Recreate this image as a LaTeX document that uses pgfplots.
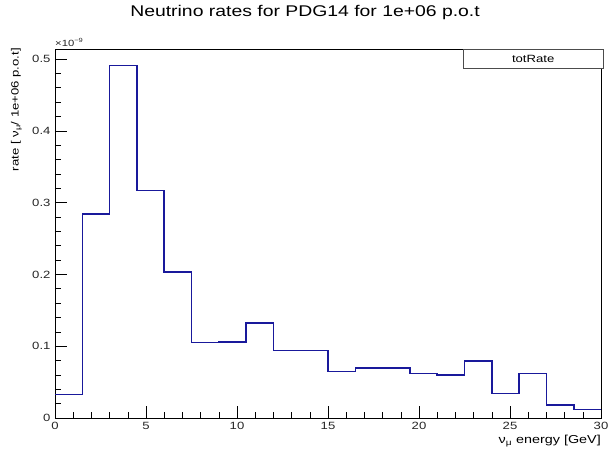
\documentclass[border=0pt]{standalone}
\usepackage{pgfplots}
\pgfplotsset{compat=1.18}
\usepackage{fontspec}
\setmainfont{Liberation Sans}[FakeStretch=1.25]
\definecolor{histblue}{RGB}{25,25,155}
\begin{document}
\begin{tikzpicture}[x=1pt,y=1pt]
\useasboundingbox (0,0) rectangle (612,452);
\begin{axis}[
  at={(55pt,34pt)}, anchor=south west,
  scale only axis, width=546pt, height=369pt,
  xmin=0, xmax=30, ymin=0, ymax=0.514,
  xtick={0,5,...,30}, minor x tick num=4,
  ytick={0,0.1,0.2,0.3,0.4,0.5}, minor y tick num=4,
  tick align=inside, xtick pos=bottom, ytick pos=left,
  major tick length=12pt, minor tick length=6pt,
  every tick/.style={black, line width=0.6pt},
  axis line style={line width=0.7pt},
  /pgf/number format/assume math mode=true,
  yticklabel style={/pgf/number format/fixed, /pgf/number format/precision=1, font=\fontsize{10.5}{12}\selectfont, color=black!85, xshift=-1pt},
  xticklabel style={font=\fontsize{10.5}{12}\selectfont, color=black!85, yshift=-1pt},
  scaled y ticks=false,
  title={Neutrino rates for PDG14 for 1e+06 p.o.t},
  title style={font=\fontsize{15.5}{18}\selectfont, anchor=center, at={(rel axis cs:0.458,1)}, yshift=31pt},
  xlabel={ν\textsubscript{μ} energy [GeV]},
  xlabel style={font=\fontsize{11.5}{13}\selectfont, at={(rel axis cs:1,0)}, anchor=north east, yshift=-17pt, inner sep=0pt},
  ylabel={rate [ ν\textsubscript{μ}/ 1e+06 p.o.t]},
  ylabel style={font=\fontsize{10.5}{12}\selectfont, at={(rel axis cs:0,1)}, anchor=south east, yshift=33pt, xshift=1pt, inner sep=0pt},
  clip=false,
]
\addplot[const plot mark left, histblue, line width=1.6pt] coordinates {
(0,0.033) (1.5,0.284) (3,0.491) (4.5,0.317) (6,0.203) (7.5,0.105)
(9,0.106) (10.5,0.132) (12,0.094) (13.5,0.094) (15,0.065) (16.5,0.070)
(18,0.070) (19.5,0.062) (21,0.060) (22.5,0.079) (24,0.034) (25.5,0.062)
(27,0.0185) (28.5,0.0116) (30,0.0116)
};
\node[draw=black!70, fill=white, line width=0.6pt, minimum width=140pt, minimum height=19pt, anchor=north west, inner sep=0pt, font=\fontsize{10.5}{12}\selectfont] at (rel axis cs:0.747,1) {totRate};
\node[anchor=south west, inner sep=0pt, font=\fontsize{9}{10}\selectfont, color=black!85] at (rel axis cs:0,1) [yshift=2pt] {×10\textsuperscript{−9}};
\end{axis}
\end{tikzpicture}
\end{document}
